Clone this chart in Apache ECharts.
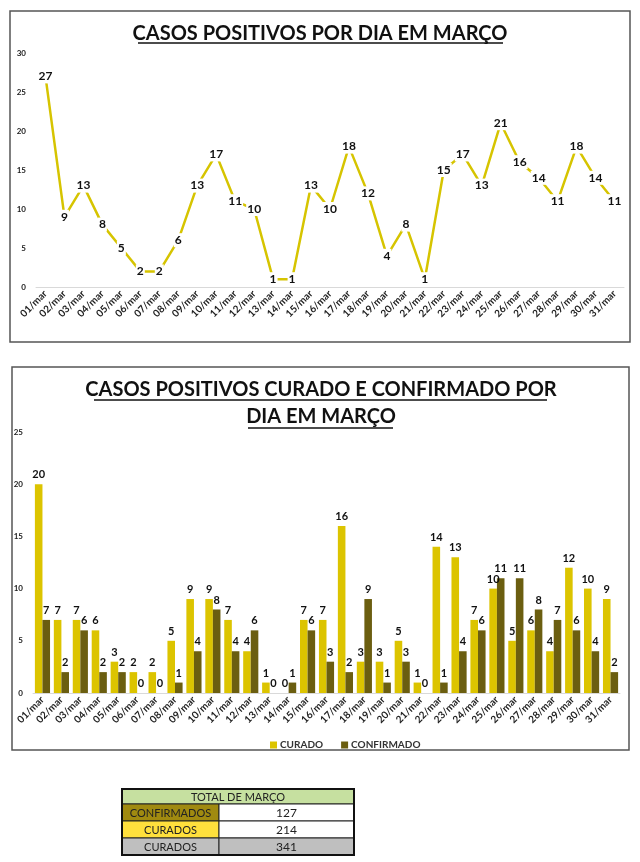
<!DOCTYPE html>
<html><head><meta charset="utf-8">
<script src="https://cdn.jsdelivr.net/npm/echarts@6/dist/echarts.min.js"></script>
<style>html,body{margin:0;padding:0;background:#fff}#c{width:640px;height:862px}</style>
</head><body><div id="c"></div>
<script>
const days = ['01/mar','02/mar','03/mar','04/mar','05/mar','06/mar','07/mar','08/mar','09/mar','10/mar','11/mar','12/mar','13/mar','14/mar','15/mar','16/mar','17/mar','18/mar','19/mar','20/mar','21/mar','22/mar','23/mar','24/mar','25/mar','26/mar','27/mar','28/mar','29/mar','30/mar','31/mar'];
const positivos = [27,9,13,8,5,2,2,6,13,17,11,10,1,1,13,10,18,12,4,8,1,15,17,13,21,16,14,11,18,14,11];
const curado = [20,7,7,6,3,2,2,5,9,9,7,4,1,0,7,7,16,3,3,5,1,14,13,7,10,5,6,4,12,10,9];
const confirmado = [7,2,6,2,2,0,0,1,4,8,4,6,0,1,6,3,2,9,1,3,0,1,4,6,11,11,8,7,6,4,2];
const tableTitle = 'TOTAL DE MARÇO';
const tableLabels = ['CONFIRMADOS','CURADOS','CURADOS'];
const tableValues = [127,214,341];

const FONT = 'Lato';
const chart = echarts.init(document.getElementById('c'), null, {renderer:'canvas'});

const labelColors = ['#a08a10','#ffe03c','#bfbfbf'];
const valueColors = ['#ffffff','#ffffff','#bfbfbf'];
const tbl = [];
const tx = 122, tw = 232, split = 97, ty = 789, hh = 15, rh = 17;
tbl.push({type:'rect',shape:{x:tx,y:ty,width:tw,height:hh},style:{fill:'#c6e0a0',stroke:'#222',lineWidth:1}});
tbl.push({type:'text',x:tx+tw/2,y:ty+hh/2+0.5,style:{text:tableTitle,fill:'#222',font:'11px '+FONT,textAlign:'center',textVerticalAlign:'middle'}});
tableLabels.forEach((l,i)=>{
  const y = ty+hh+i*rh;
  tbl.push({type:'rect',shape:{x:tx,y:y,width:split,height:rh},style:{fill:labelColors[i],stroke:'#222',lineWidth:1}});
  tbl.push({type:'rect',shape:{x:tx+split,y:y,width:tw-split,height:rh},style:{fill:valueColors[i],stroke:'#222',lineWidth:1}});
  tbl.push({type:'text',x:tx+split/2,y:y+rh/2+0.5,style:{text:l,fill:'#222',font:'11px '+FONT,textAlign:'center',textVerticalAlign:'middle'}});
  tbl.push({type:'text',x:tx+split+(tw-split)/2,y:y+rh/2+0.5,style:{text:String(tableValues[i]),fill:'#222',font:'12px '+FONT,textAlign:'center',textVerticalAlign:'middle'}});
});
tbl.push({type:'rect',shape:{x:tx,y:ty,width:tw,height:hh+3*rh},style:{fill:'none',stroke:'#111',lineWidth:2}});

const axisLabel = {rotate:45,fontSize:10,fontWeight:'bold',color:'#222',fontFamily:FONT,margin:5,interval:0};
const yLabel = {fontSize:8,fontWeight:'bold',color:'#222',fontFamily:FONT,margin:10};

chart.setOption({
  animation:false,
  textStyle:{fontFamily:FONT},
  graphic:[
    {type:'rect',shape:{x:10,y:11,width:620,height:331},style:{fill:'none',stroke:'#555',lineWidth:1.5}},
    {type:'rect',shape:{x:12,y:367,width:617,height:383},style:{fill:'none',stroke:'#555',lineWidth:1.5}},
    {type:'text',x:320,y:34,style:{text:'CASOS POSITIVOS POR DIA EM MARÇO',fill:'#111',font:'bold 20px '+FONT,textAlign:'center',textVerticalAlign:'middle'}},
    {type:'line',shape:{x1:138,y1:43,x2:503,y2:43},style:{stroke:'#111',lineWidth:1.5}},
    {type:'text',x:321,y:390,style:{text:'CASOS POSITIVOS CURADO E CONFIRMADO POR',fill:'#111',font:'bold 20px '+FONT,textAlign:'center',textVerticalAlign:'middle'}},
    {type:'line',shape:{x1:94,y1:400,x2:547,y2:400},style:{stroke:'#111',lineWidth:1.5}},
    {type:'text',x:321,y:417,style:{text:'DIA EM MARÇO',fill:'#111',font:'bold 20px '+FONT,textAlign:'center',textVerticalAlign:'middle'}},
    {type:'line',shape:{x1:248,y1:428,x2:393,y2:428},style:{stroke:'#111',lineWidth:1.5}},
    ...tbl
  ],
  legend:{data:['CURADO','CONFIRMADO'],left:265,top:735,icon:'rect',itemWidth:7,itemHeight:7,itemGap:18,itemStyle:{},
    textStyle:{fontSize:10,fontWeight:'bold',color:'#333',fontFamily:FONT,padding:[0,0,0,-2]}},
  grid:[
    {left:36,right:16,top:53,height:234},
    {left:33,right:20,top:432,height:261}
  ],
  xAxis:[
    {type:'category',gridIndex:0,data:days,boundaryGap:true,axisTick:{show:false},axisLine:{lineStyle:{color:'#d9d9d9',width:1}},axisLabel:axisLabel},
    {type:'category',gridIndex:1,data:days,boundaryGap:true,axisTick:{show:false},axisLine:{lineStyle:{color:'#d9d9d9',width:1}},axisLabel:axisLabel}
  ],
  yAxis:[
    {type:'value',gridIndex:0,min:0,max:30,interval:5,splitLine:{show:false},axisLine:{show:false},axisTick:{show:false},axisLabel:yLabel},
    {type:'value',gridIndex:1,min:0,max:25,interval:5,splitLine:{show:false},axisLine:{show:false},axisTick:{show:false},axisLabel:yLabel}
  ],
  series:[
    {type:'line',name:'POSITIVOS',xAxisIndex:0,yAxisIndex:0,data:positivos,symbol:'circle',symbolSize:1,
      lineStyle:{color:'#d6c400',width:2.5},itemStyle:{color:'#d6c400'},
      label:{show:true,position:'inside',fontSize:12,fontWeight:'bold',color:'#111',backgroundColor:'#fff',padding:[1,1],fontFamily:FONT},
      labelLayout:{hideOverlap:false}},
    {type:'bar',name:'CURADO',xAxisIndex:1,yAxisIndex:1,data:curado,barGap:'0%',barCategoryGap:'20%',
      itemStyle:{color:'#dcc400'},
      label:{show:true,position:'top',fontSize:11,fontWeight:'bold',color:'#111',distance:4,fontFamily:FONT}},
    {type:'bar',name:'CONFIRMADO',xAxisIndex:1,yAxisIndex:1,data:confirmado,
      itemStyle:{color:'#6b5e10'},
      label:{show:true,position:'top',fontSize:11,fontWeight:'bold',color:'#111',distance:4,fontFamily:FONT}}
  ]
});
</script></body></html>
